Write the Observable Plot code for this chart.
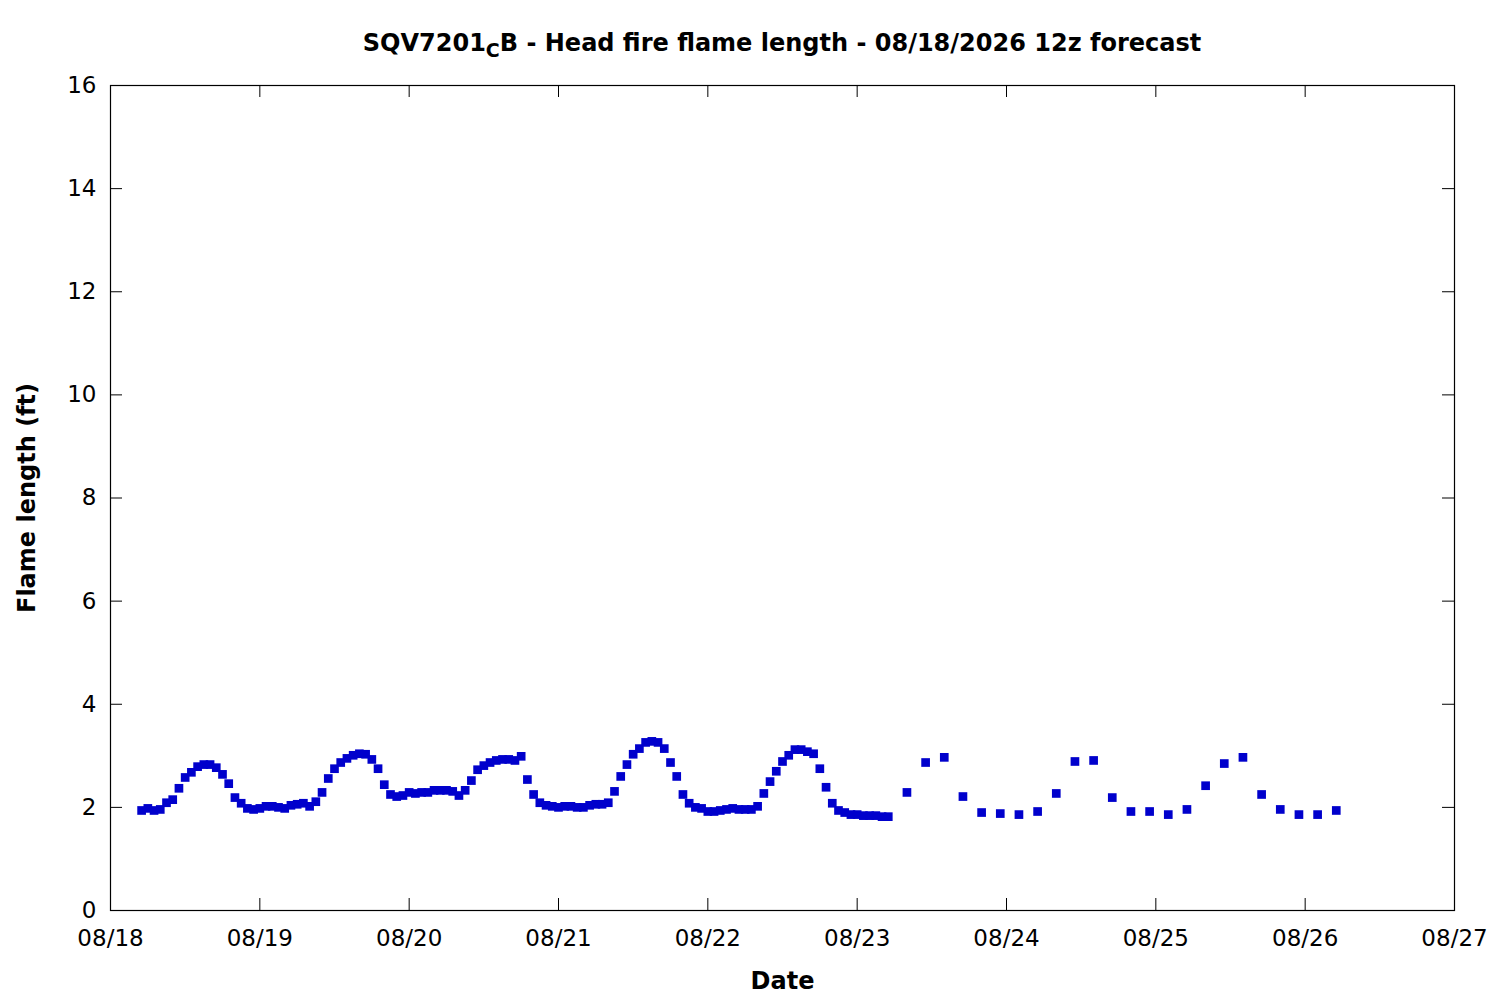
<!DOCTYPE html>
<html>
<head>
<meta charset="utf-8">
<script src="https://cdn.jsdelivr.net/npm/d3@7"></script>
<script src="https://cdn.jsdelivr.net/npm/@observablehq/plot@0.6"></script>
<style>
  html, body { margin: 0; padding: 0; background: #fff; }
  #chart { width: 1500px; height: 1000px; }
</style>
</head>
<body>
<div id="chart"></div>
<script>
// Hourly forecast values (08/18 05:00 through 08/23 05:00)
const hourlyStart = Date.UTC(2026, 7, 18, 5);
const hourlyValues = [
  1.94, 1.98, 1.94, 1.96, 2.09, 2.15, 2.37, 2.58, 2.68, 2.79, 2.83, 2.83, 2.77, 2.64, 2.46, 2.19,
  2.08, 1.98, 1.96, 1.98, 2.02, 2.02, 2.00, 1.98, 2.04, 2.06, 2.08, 2.02, 2.11, 2.29, 2.56,
  2.75, 2.87, 2.95, 3.01, 3.04, 3.03, 2.93, 2.75, 2.44, 2.25, 2.21, 2.23, 2.29, 2.27, 2.29, 2.29,
  2.33, 2.33, 2.33, 2.31, 2.23, 2.33, 2.52, 2.73, 2.81, 2.87, 2.91, 2.93, 2.93, 2.91, 2.99,
  2.54, 2.25, 2.09, 2.04, 2.02, 2.00, 2.02, 2.02, 2.00, 2.00, 2.04, 2.06, 2.06, 2.09, 2.31,
  2.60, 2.83, 3.03, 3.14, 3.26, 3.28, 3.26, 3.14, 2.87, 2.60, 2.25, 2.08, 2.00, 1.98, 1.92,
  1.92, 1.94, 1.96, 1.98, 1.96, 1.96, 1.96, 2.02, 2.27, 2.50, 2.70, 2.89, 3.01, 3.12, 3.12,
  3.08, 3.04, 2.75, 2.39, 2.08, 1.94, 1.90, 1.86, 1.86, 1.84, 1.84, 1.84, 1.82, 1.82
];
// 3-hourly forecast values (08/23 08:00 through 08/26 05:00)
const threeHourlyStart = Date.UTC(2026, 7, 23, 8);
const threeHourlyValues = [
  2.29, 2.87, 2.97, 2.21, 1.90, 1.88, 1.86, 1.92, 2.27, 2.89, 2.91, 2.19,
  1.92, 1.92, 1.86, 1.96, 2.42, 2.85, 2.97, 2.25, 1.96, 1.86, 1.86, 1.94
];
const yTicks = [0, 2, 4, 6, 8, 10, 12, 14, 16];
const xTickDays = ["2026-08-18", "2026-08-19", "2026-08-20", "2026-08-21", "2026-08-22",
                   "2026-08-23", "2026-08-24", "2026-08-25", "2026-08-26", "2026-08-27"];
const titleMain = "SQV7201";
const titleSub = "C";
const titleRest = "B - Head fire flame length - 08/18/2026 12z forecast";
const xLabel = "Date";
const yLabel = "Flame length (ft)";

const HOUR = 3600 * 1000;
const data = [
  ...hourlyValues.map((v, i) => ({date: new Date(hourlyStart + i * HOUR), value: v})),
  ...threeHourlyValues.map((v, i) => ({date: new Date(threeHourlyStart + i * 3 * HOUR), value: v}))
];
const xTicks = xTickDays.map(d => new Date(d + "T00:00:00Z"));

const W = 1500, H = 1000;
const mL = 110, mR = 46, mT = 85, mB = 90;
const fw = W - mL - mR, fh = H - mT - mB;
const tick = 12;
const color = "#0000cc";

const chart = Plot.plot({
  width: W,
  height: H,
  marginLeft: mL,
  marginRight: mR,
  marginTop: mT,
  marginBottom: mB,
  style: {fontFamily: "'DejaVu Sans', sans-serif", fontSize: "23px", color: "#000", background: "#fff"},
  x: {type: "utc", domain: [xTicks[0], xTicks[xTicks.length - 1]]},
  y: {domain: [0, 16]},
  marks: [
    Plot.frame({stroke: "#000", strokeWidth: 1.2}),
    Plot.tickY(yTicks, {y: d => d, stroke: "#000", insetRight: fw - tick}),
    Plot.tickY(yTicks, {y: d => d, stroke: "#000", insetLeft: fw - tick}),
    Plot.tickX(xTicks, {x: d => d, stroke: "#000", insetTop: fh - tick}),
    Plot.tickX(xTicks, {x: d => d, stroke: "#000", insetBottom: fh - tick}),
    Plot.axisY(yTicks, {tickSize: 0, tickPadding: 14, label: null, fontSize: 23, tickFormat: d => String(d)}),
    Plot.axisX(xTicks, {tickSize: 0, tickPadding: 19, label: null, fontSize: 23, tickFormat: d3.utcFormat("%m/%d")}),
    Plot.dot(data, {x: "date", y: "value", symbol: "square", r: 4.9, fill: color, stroke: null}),
    Plot.text([xLabel], {text: d => d, frameAnchor: "bottom", dy: 78, fontWeight: "bold", fontSize: 24}),
    Plot.text([yLabel], {text: d => d, frameAnchor: "left", textAnchor: "middle", dx: -83, rotate: -90, fontWeight: "bold", fontSize: 24})
  ]
});

// Title with subscript
const svg = d3.select(chart);
const t = svg.append("text")
  .attr("x", mL + fw / 2)
  .attr("y", 51)
  .attr("text-anchor", "middle")
  .attr("font-weight", "bold")
  .attr("font-size", 24)
  .attr("fill", "#000");
t.append("tspan").text(titleMain);
t.append("tspan").attr("dy", 6).attr("font-size", 19).text(titleSub);
t.append("tspan").attr("dy", -6).text(titleRest);

document.getElementById("chart").appendChild(chart);
</script>
</body>
</html>
